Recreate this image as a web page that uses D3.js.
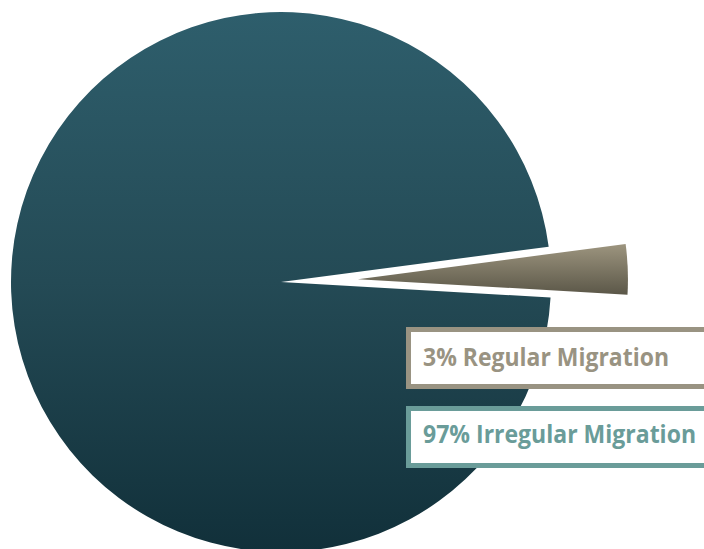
<!DOCTYPE html>
<html>
<head>
<meta charset="utf-8">
<script src="https://cdn.jsdelivr.net/npm/d3@7/dist/d3.min.js"></script>
<style>
  html, body { margin: 0; padding: 0; background: #ffffff; }
  svg { display: block; }
</style>
</head>
<body>
<svg id="chart" width="704" height="549"></svg>
<script>
// Share of migration by type (percent)
const categories = ["Regular Migration", "Irregular Migration"];
const values = [3, 97];
const labels = ["3% Regular Migration", "97% Irregular Migration"];

const width = 704, height = 549;
const cx = 281, cy = 282, radius = 270;
const explode = 77;

const svg = d3.select("#chart");
const defs = svg.append("defs");

// Vertical gradients for each slice
const gradStops = {
  "grad-regular": [["0%", "#9d957f"], ["100%", "#5b5748"]],
  "grad-irregular": [["0%", "#2e5e6c"], ["50%", "#244a55"], ["100%", "#11303a"]]
};
const gradIds = ["grad-regular", "grad-irregular"];
gradIds.forEach(id => {
  const g = defs.append("linearGradient")
    .attr("id", id)
    .attr("x1", 0).attr("y1", 0).attr("x2", 0).attr("y2", 1);
  gradStops[id].forEach(([off, col]) => {
    g.append("stop").attr("offset", off).attr("stop-color", col);
  });
});

const a0 = 82.5 * Math.PI / 180;
const pie = d3.pie().sort(null).startAngle(a0).endAngle(a0 + 2 * Math.PI);
const arcs = pie(values);
const arc = d3.arc().innerRadius(0).outerRadius(radius);

const g = svg.append("g").attr("transform", `translate(${cx},${cy})`);
g.selectAll("path.slice")
  .data(arcs)
  .join("path")
  .attr("class", "slice")
  .attr("d", arc)
  .attr("fill", (d, i) => `url(#${gradIds[i]})`)
  .attr("transform", (d, i) => {
    if (i !== 0) return null;
    const mid = (d.startAngle + d.endAngle) / 2;
    return `translate(${explode * Math.sin(mid)},${-explode * Math.cos(mid)})`;
  });

// Label boxes
const boxColors = ["#999382", "#6a9c99"];
const boxes = [
  { y: 329.5, h: 57, textY: 366, len: 246 },
  { y: 408.5, h: 57, textY: 443, len: 273 }
];
const lg = svg.append("g");
boxes.forEach((b, i) => {
  lg.append("rect")
    .attr("x", 408.5).attr("y", b.y)
    .attr("width", 320).attr("height", b.h)
    .attr("fill", "#ffffff")
    .attr("stroke", boxColors[i])
    .attr("stroke-width", 5);
  lg.append("text")
    .attr("x", 423).attr("y", b.textY)
    .attr("fill", boxColors[i])
    .attr("font-family", "'Open Sans', sans-serif")
    .attr("font-weight", "bold")
    .attr("font-size", 25)
    .attr("textLength", b.len)
    .attr("lengthAdjust", "spacingAndGlyphs")
    .text(labels[i]);
});
</script>
</body>
</html>
